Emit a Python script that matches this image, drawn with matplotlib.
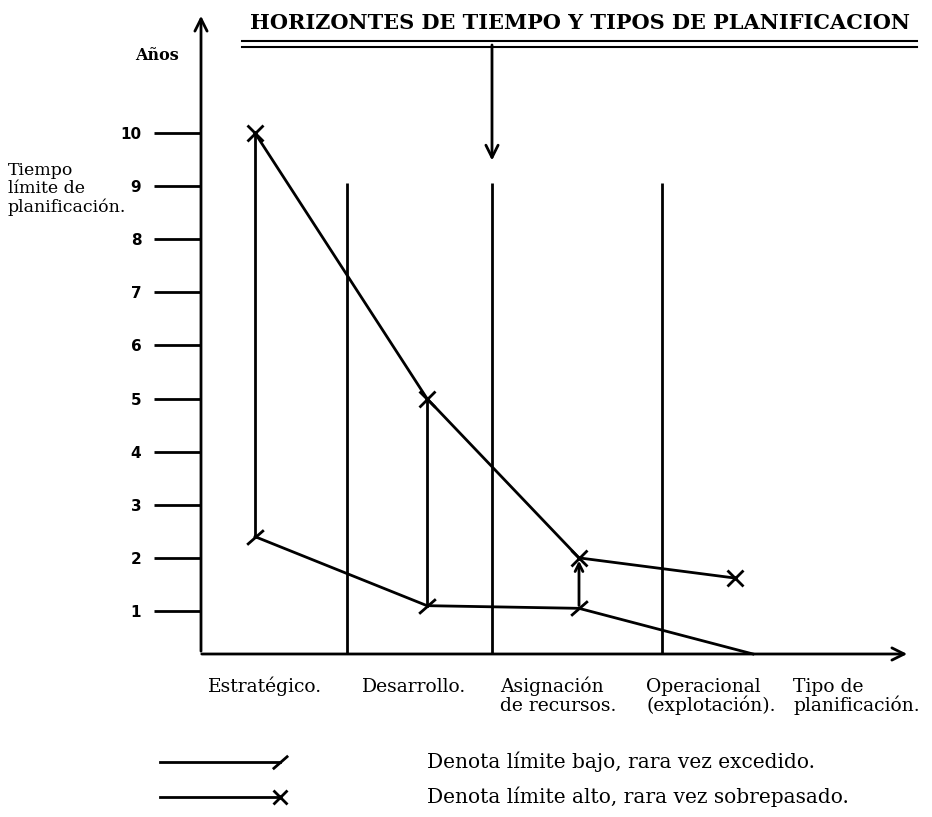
import matplotlib.pyplot as plt
from matplotlib.path import Path
from matplotlib.lines import Line2D

##########################
# données
##########################
anos = [1, 2, 3, 4, 5, 6, 7, 8, 9, 10]
x_alto = [0.54, 2.26, 3.78, 5.34]
lim_alto = [10, 5, 2.0, 1.62]
x_bajo = [0.54, 2.26, 3.78, 5.52]
lim_bajo = [2.4, 1.1, 1.05, 0.19]
separadores = [1.46, 2.91, 4.61]
categorias = ["Estratégico.", "Desarrollo.", "Asignación\nde recursos.",
              "Operacional\n(explotación).", "Tipo de\nplanificación."]
x_categorias = [0.07, 1.61, 2.99, 4.45, 5.92]

SERIF = "DejaVu Serif"
W, H = 932, 817
y_min, y_max = 0.19, 12.26
x_min, x_max = 0.0, 7.09
px = 1 / 53.1  # un pixel en unités de l'axe y

fig = plt.figure(figsize=(W / 100, H / 100), dpi=100)
ax = fig.add_axes([201 / W, (H - 654) / H, (910 - 201) / W, (654 - 13) / H])
ax.set_xlim(x_min, x_max)
ax.set_ylim(y_min, y_max)
for s in ax.spines.values():
    s.set_visible(False)

# axes avec flèches
flecha = dict(arrowstyle="->", lw=2, color="black", mutation_scale=22)
ax.annotate("", xy=(0, y_max), xytext=(0, y_min), arrowprops=flecha, annotation_clip=False)
ax.annotate("", xy=(x_max, y_min), xytext=(-0.02, y_min), arrowprops=flecha, annotation_clip=False)

# graduations
ax.set_xticks([])
ax.set_yticks(anos)
ax.set_yticklabels([str(a) for a in anos], fontweight="bold", fontsize=11, family="DejaVu Sans")
ax.tick_params(axis="y", length=34, width=2, pad=9)

# séparateurs verticaux
ax.vlines(separadores, y_min, 9.06, color="black", lw=2)

# flèche descendante
ax.annotate("", xy=(2.91, 9.43), xytext=(2.91, 11.71), arrowprops=flecha, annotation_clip=False)

# marqueur "/"
barra = Path([(-0.8, -0.7), (0.8, 0.7)], [Path.MOVETO, Path.LINETO])

# liaisons verticales
ax.plot([x_alto[0], x_alto[0]], [lim_bajo[0], lim_alto[0]], color="black", lw=2)
ax.plot([x_alto[1], x_alto[1]], [lim_bajo[1], lim_alto[1]], color="black", lw=2)
ax.annotate("", xy=(x_alto[2], lim_alto[2]), xytext=(x_bajo[2], lim_bajo[2]),
            arrowprops=dict(arrowstyle="->", lw=2, color="black", mutation_scale=14))

# courbes
ax.plot(x_bajo, lim_bajo, color="black", lw=2, clip_on=False)
ax.plot(x_bajo[:3], lim_bajo[:3], ls="none", marker=barra, ms=12, mew=2, color="black")
ax.plot(x_alto, lim_alto, color="black", lw=2, marker="x", ms=11, mew=2)

# étiquettes des catégories, ligne par ligne
y_texto = y_min - 38 * px
for x, t in zip(x_categorias, categorias):
    for i, linea in enumerate(t.split("\n")):
        ax.text(x, y_texto - i * 18.5 * px, linea, ha="left", va="baseline",
                fontsize=13.5, family=SERIF, clip_on=False)

# titre et textes
fig.text(580 / W, 1 - 29 / H, "HORIZONTES DE TIEMPO Y TIPOS DE PLANIFICACION",
         ha="center", va="baseline", fontsize=15, fontweight="bold", family=SERIF)
for yy in (41, 47):
    fig.add_artist(Line2D([242 / W, 917 / W], [1 - yy / H, 1 - yy / H], color="black", lw=1.5))
fig.text(135 / W, 1 - 55 / H, "Años", ha="left", va="center", fontsize=11.5,
         fontweight="bold", family=SERIF)
fig.text(8 / W, 1 - 162 / H, "Tiempo\nlímite de\nplanificación.", ha="left", va="top",
         fontsize=12.5, family=SERIF, linespacing=1.1)

# légende
for yy, m, ms in ((762, barra, 11), (797, "x", 10)):
    fig.add_artist(Line2D([160 / W, 280 / W], [1 - yy / H, 1 - yy / H], color="black", lw=2))
    fig.add_artist(Line2D([280 / W], [1 - yy / H], marker=m, ms=ms, mew=2, color="black", ls="none"))
fig.text(427 / W, 1 - 762 / H, "Denota límite bajo, rara vez excedido.", ha="left",
         va="center", fontsize=14.5, family=SERIF)
fig.text(427 / W, 1 - 797 / H, "Denota límite alto, rara vez sobrepasado.", ha="left",
         va="center", fontsize=14.5, family=SERIF)

plt.savefig("out.png", dpi=100)
